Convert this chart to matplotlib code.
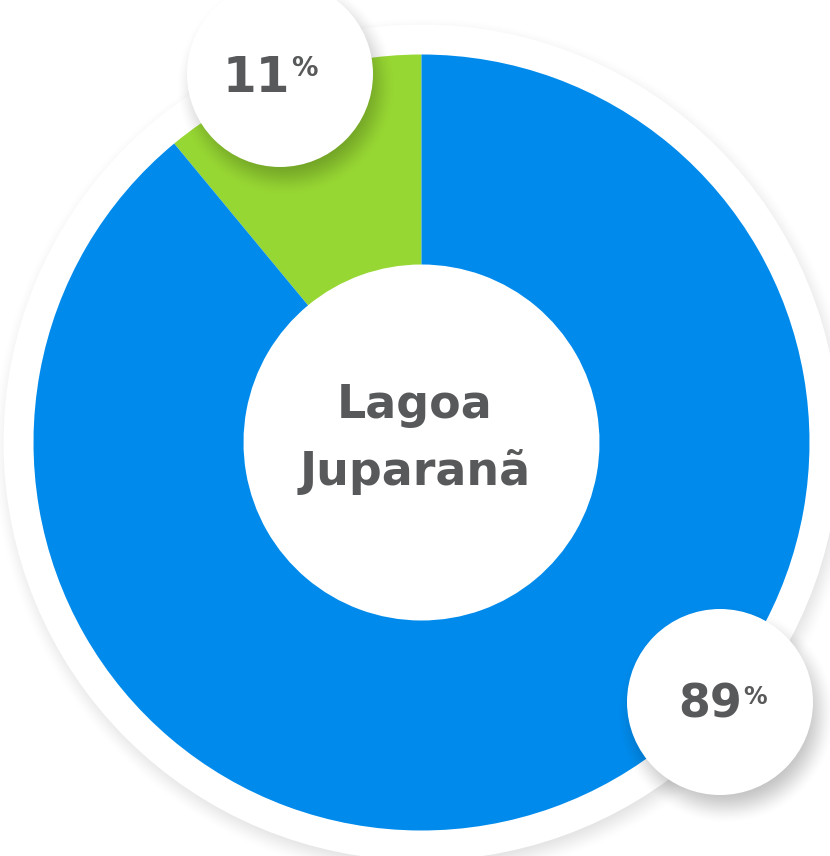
import matplotlib.pyplot as plt
import numpy as np
from matplotlib.patches import Circle

# Data
values = [11, 89]
colors = ['#97d733', '#008bec']
center_title = ['Lagoa', 'Juparanã']

W, H = 830, 856
text_color = '#58595b'
font = 'DejaVu Sans'

fig = plt.figure(figsize=(W / 100, H / 100), dpi=100)
ax = fig.add_axes([0, 0, 1, 1])

yy, xx = np.mgrid[0:H, 0:W] + 0.5


def shadow(x, y, r, blur, strength, z):
    # soft grey shadow drawn as an RGBA image
    d = np.hypot(xx - x, yy - y)
    t = np.clip((d - (r - blur)) / (2 * blur), 0, 1)
    a = strength * (1 - t * t * (3 - 2 * t))
    img = np.zeros((H, W, 4))
    img[..., 3] = a
    ax.imshow(img, extent=[0, W, 0, H], origin='lower', zorder=z, interpolation='bilinear')


# donut centre (pixel coords, y from bottom)
cx, cy = 421.5, H - 442.5

# white backing disk with shadow
shadow(cx + 3, cy - 7, 418, 16, 0.13, 0.5)
ax.add_patch(Circle((cx, cy), 418, facecolor='white', edgecolor='none', zorder=0.8))

# donut
ax.pie(values, colors=colors, startangle=90, counterclock=True,
       center=(cx, cy), radius=388,
       wedgeprops=dict(width=210, linewidth=0, edgecolor='none', zorder=1))

# label bubbles
bubbles = [(280, H - 74), (720, H - 702)]
for bx, by in bubbles:
    shadow(bx + 6, by - 12, 93, 18, 0.24, 2)
    ax.add_patch(Circle((bx, by), 93, facecolor='white', edgecolor='none', zorder=3))

# percent labels
ax.text(290, H - 92, str(values[0]), ha='right', va='baseline', fontsize=35,
        fontweight='bold', color=text_color, family=font, zorder=4)
ax.text(291, H - 76, '%', ha='left', va='baseline', fontsize=19,
        fontweight='bold', color=text_color, family=font, zorder=4)
ax.text(742, H - 718, str(values[1]), ha='right', va='baseline', fontsize=33,
        fontweight='bold', color=text_color, family=font, zorder=4)
ax.text(743, H - 704, '%', ha='left', va='baseline', fontsize=17,
        fontweight='bold', color=text_color, family=font, zorder=4)

# centre title
ax.text(415, H - 418, center_title[0], ha='center', va='baseline', fontsize=33,
        fontweight='bold', color=text_color, family=font, zorder=4)
ax.text(415, H - 485, center_title[1], ha='center', va='baseline', fontsize=33,
        fontweight='bold', color=text_color, family=font, zorder=4)

ax.set_xlim(0, W)
ax.set_ylim(0, H)
ax.set_aspect('equal')
ax.axis('off')

fig.savefig('out.png', dpi=100, facecolor='white')
